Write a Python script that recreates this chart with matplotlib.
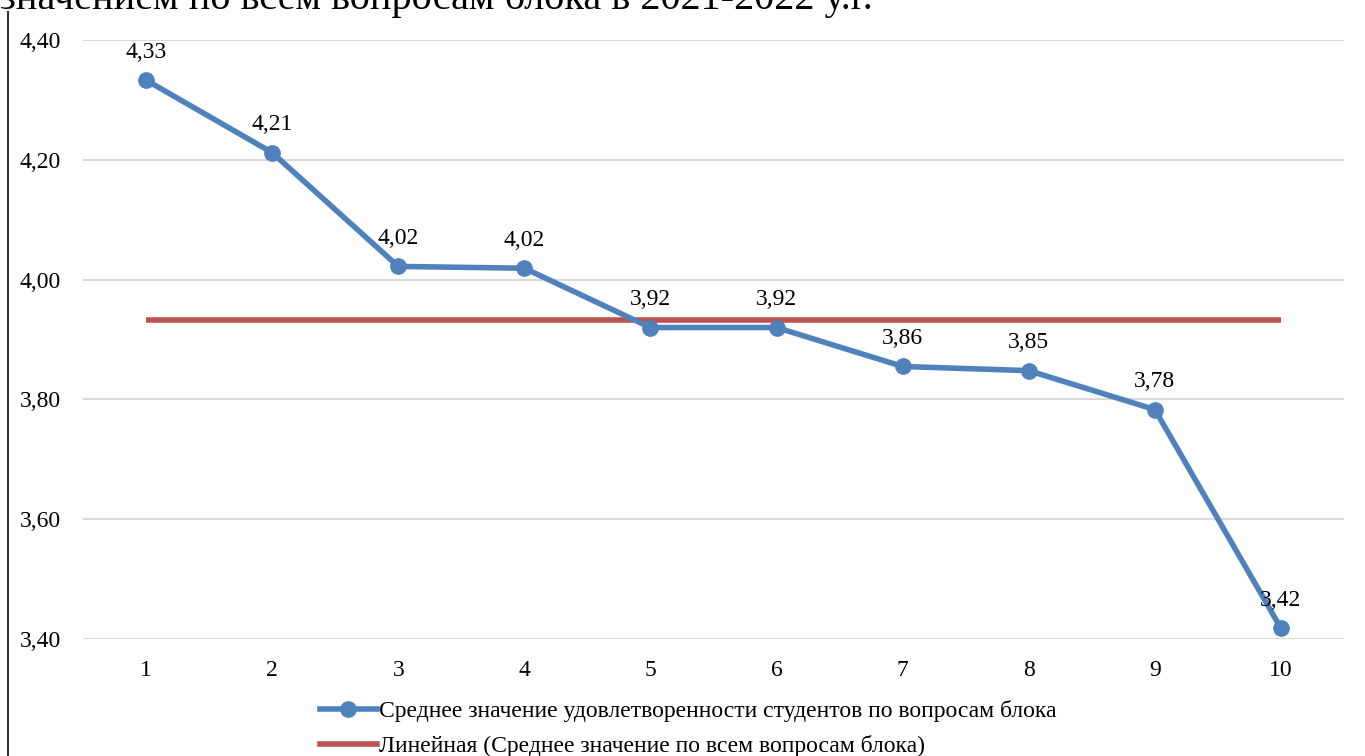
import matplotlib
matplotlib.use("Agg")
import matplotlib.pyplot as plt
from matplotlib.lines import Line2D

plt.rcParams['font.family'] = ['Liberation Serif', 'DejaVu Serif']

categories = [1, 2, 3, 4, 5, 6, 7, 8, 9, 10]
values = [4.333, 4.212, 4.022, 4.019, 3.920, 3.920, 3.855, 3.848, 3.783, 3.418]
labels = ["4,33", "4,21", "4,02", "4,02", "3,92", "3,92", "3,86", "3,85", "3,78", "3,42"]
mean_value = sum(values) / len(values)
yticks = [3.40, 3.60, 3.80, 4.00, 4.20, 4.40]
ytick_labels = ["3,40", "3,60", "3,80", "4,00", "4,20", "4,40"]
series_name = "Среднее значение удовлетворенности студентов по вопросам блока"
trend_name = "Линейная (Среднее значение по всем вопросам блока)"
header_text = "значением по всем вопросам блока в 2021-2022 у.г."

W, H = 1365, 756
fig = plt.figure(figsize=(W / 100, H / 100), dpi=100)
left, right, top, bottom = 83, 1344, 40, 639
ax = fig.add_axes([left / W, 1 - bottom / H, (right - left) / W, (bottom - top) / H])

blue = "#4f81bd"
red = "#c0504d"
fs = 17

ax.plot(categories, [mean_value] * len(categories), color=red, lw=4, solid_capstyle='butt', zorder=2)
ax.plot(categories, values, color=blue, lw=4, marker='o', ms=11, zorder=3)
for x, v, t in zip(categories, values, labels):
    ax.annotate(t, (x, v), xytext=(0, 20), textcoords='offset points', ha='center', va='center',
                fontsize=fs, color='black')

ax.set_xlim(0.5, 10.5)
ax.set_ylim(3.40, 4.40)
ax.set_yticks(yticks)
ax.set_yticklabels(ytick_labels)
ax.set_xticks(categories)
ax.set_xticklabels([str(c) for c in categories])
ax.tick_params(axis='both', length=0, labelsize=fs, colors='black')
ax.tick_params(axis='x', pad=15)
ax.tick_params(axis='y', pad=16)
ax.grid(axis='y', color='#d9d9d9', lw=1.5)
ax.set_axisbelow(True)
for s in ax.spines.values():
    s.set_visible(False)

handles = [Line2D([], [], color=blue, lw=4, marker='o', ms=11),
           Line2D([], [], color=red, lw=4)]
leg = fig.legend(handles, [series_name, trend_name], loc='upper left',
                 bbox_to_anchor=(320 / W, 1 - 700 / H), frameon=False, fontsize=fs,
                 handlelength=2.4, handletextpad=0.1, labelspacing=0.55, borderpad=0,
                 borderaxespad=0)

# document border line on the left
fig.add_artist(Line2D([8 / W, 8 / W], [0, 1 - 12 / H], color='#333333', lw=1.5))
# cropped header text from document
fig.text(0 / W, 1 - 9 / H, header_text, fontsize=29, va='baseline', ha='left', color='black')

fig.savefig("out.png", dpi=100)
